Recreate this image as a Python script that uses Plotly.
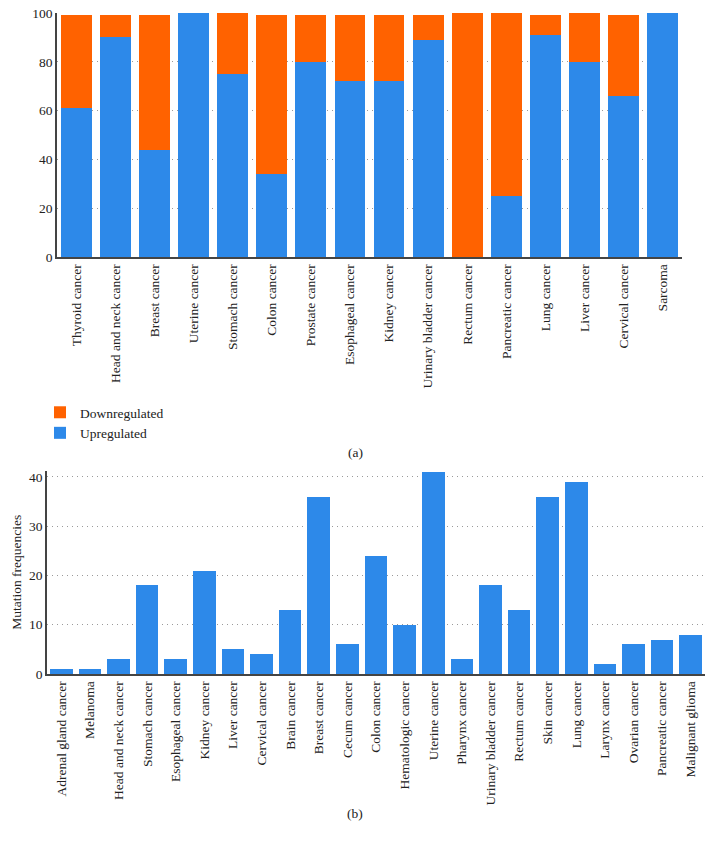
import plotly.graph_objects as go

# ---- Data (a) ----
cats_a = ["Thyroid cancer", "Head and neck cancer", "Breast cancer", "Uterine cancer",
          "Stomach cancer", "Colon cancer", "Prostate cancer", "Esophageal cancer",
          "Kidney cancer", "Urinary bladder cancer", "Rectum cancer", "Pancreatic cancer",
          "Lung cancer", "Liver cancer", "Cervical cancer", "Sarcoma"]
up_a = [61, 90, 44, 100, 75, 34, 80, 72, 72, 89, 0, 25, 91, 80, 66, 100]
down_a = [38, 9, 55, 0, 25, 65, 19, 27, 27, 10, 100, 75, 8, 20, 33, 0]
yticks_a = [0, 20, 40, 60, 80, 100]

# ---- Data (b) ----
cats_b = ["Adrenal gland cancer", "Melanoma", "Head and neck cancer", "Stomach cancer",
          "Esophageal cancer", "Kidney cancer", "Liver cancer", "Cervical cancer",
          "Brain cancer", "Breast cancer", "Cecum cancer", "Colon cancer",
          "Hematologic cancer", "Uterine cancer", "Pharynx cancer",
          "Urinary bladder cancer", "Rectum cancer", "Skin cancer", "Lung cancer",
          "Larynx cancer", "Ovarian cancer", "Pancreatic cancer", "Malignant glioma"]
freq_b = [1, 1, 3, 18, 3, 21, 5, 4, 13, 36, 6, 24, 10, 41, 3, 18, 13, 36, 39, 2, 6, 7, 8]
yticks_b = [0, 10, 20, 30, 40]

BLUE = "#2D89E9"
ORANGE = "#FF6200"
FONT = "Liberation Serif"
AXC = "#444444"
GRID = "#9a9a9a"

W, H = 714, 850

fig = go.Figure()
fig.add_trace(go.Bar(x=cats_a, y=up_a, name="Upregulated", marker_color=BLUE,
                     marker_line_width=0, xaxis="x", yaxis="y", width=0.79))
fig.add_trace(go.Bar(x=cats_a, y=down_a, name="Downregulated", marker_color=ORANGE,
                     marker_line_width=0, xaxis="x", yaxis="y", width=0.79))
fig.add_trace(go.Bar(x=cats_b, y=freq_b, name="Mutation", marker_color=BLUE,
                     marker_line_width=0, xaxis="x2", yaxis="y2", showlegend=False,
                     width=0.79))

def px_x(a, b):
    return [a / W, b / W]

def px_y(top, bottom):
    return [1 - bottom / H, 1 - top / H]

axis_common = dict(showline=True, linecolor=AXC, linewidth=1.5, ticks="",
                   automargin=False,
                   tickfont=dict(family=FONT, size=13.5, color="#222"))

fig.update_layout(
    width=W, height=H,
    autosize=False,
    margin=dict(l=0, r=0, t=0, b=0, pad=0),
    paper_bgcolor="white", plot_bgcolor="white",
    barmode="stack",
    font=dict(family=FONT, size=13, color="#222"),
    xaxis=dict(domain=px_x(57, 682), anchor="y", tickangle=-90, showgrid=False,
               **axis_common),
    yaxis=dict(domain=px_y(13, 257), anchor="x", range=[0, 100], tickvals=yticks_a,
               showgrid=True, gridcolor=GRID, griddash="1px,4px", gridwidth=1,
               zeroline=False, **axis_common),
    xaxis2=dict(domain=px_x(47, 705), anchor="y2", tickangle=-90, showgrid=False,
                **axis_common),
    yaxis2=dict(domain=px_y(470.5, 674), anchor="x2", range=[0, 41.3],
                tickvals=yticks_b, showgrid=True, gridcolor=GRID, griddash="1px,4px",
                gridwidth=1, zeroline=False,
                title=dict(text="Mutation frequencies", font=dict(family=FONT, size=13.5),
                           standoff=4),
                **axis_common),
    legend=dict(x=40 / W, y=1 - 397 / H, xanchor="left", yanchor="top",
                traceorder="reversed", font=dict(family=FONT, size=13.5),
                bgcolor="rgba(0,0,0,0)", itemwidth=30, borderwidth=0),
    annotations=[
        dict(text="(a)", x=355 / W, y=1 - 452 / H, xref="paper", yref="paper",
             showarrow=False, font=dict(family=FONT, size=13.5)),
        dict(text="(b)", x=355 / W, y=1 - 823 / H, xref="paper", yref="paper",
             showarrow=False, font=dict(family=FONT, size=13.5)),
    ],
)

fig.write_html("out.html", config={"displayModeBar": False},
               post_script="document.body.style.margin='0px';")
